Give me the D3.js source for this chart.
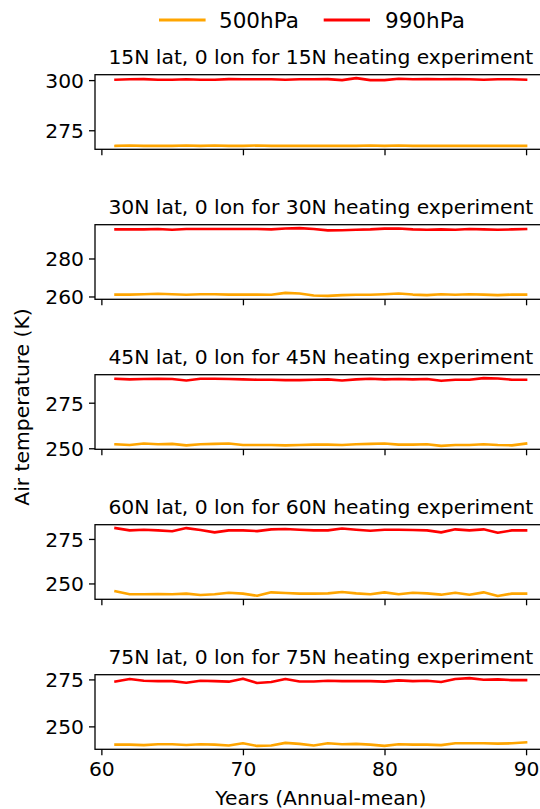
<!DOCTYPE html>
<html>
<head>
<meta charset="utf-8">
<script src="https://cdn.jsdelivr.net/npm/d3@7"></script>
<style>
  html, body { margin: 0; padding: 0; background: #fff; }
  svg { display: block; }
  text { font-family: "DejaVu Sans", sans-serif; fill: #000; }
</style>
</head>
<body>
<svg id="chart" width="540" height="809"></svg>
<script>
// ---------------- data ----------------
const years = [61,62,63,64,65,66,67,68,69,70,71,72,73,74,75,76,77,78,79,80,81,82,83,84,85,86,87,88,89,90];
const seriesNames = ["500hPa", "990hPa"];
const panelTitles = [
  "15N lat, 0 lon for 15N heating experiment",
  "30N lat, 0 lon for 30N heating experiment",
  "45N lat, 0 lon for 45N heating experiment",
  "60N lat, 0 lon for 60N heating experiment",
  "75N lat, 0 lon for 75N heating experiment"
];
const t500_15N = [267.2,267.4,267.2,267.2,267.2,267.4,267.2,267.4,267.2,267.2,267.4,267.2,267.2,267.2,267.2,267.2,267.2,267.2,267.4,267.2,267.4,267.2,267.2,267.2,267.2,267.2,267.2,267.2,267.2,267.2];
const t990_15N = [300.2,300.4,300.5,300.2,300.2,300.4,300.2,300.2,300.5,300.4,300.4,300.4,300.2,300.4,300.4,300.5,300.0,301.0,300.0,300.0,300.7,300.4,300.5,300.4,300.5,300.4,300.2,300.4,300.4,300.2];
const t500_30N = [261.0,261.0,261.2,261.4,261.2,260.9,261.2,261.2,261.0,261.0,261.0,260.9,261.9,261.6,260.5,260.3,260.7,260.9,260.9,261.2,261.6,261.0,260.7,261.2,260.9,261.2,261.0,260.7,261.0,261.0];
const t990_30N = [295.3,295.3,295.3,295.5,295.1,295.5,295.5,295.5,295.5,295.5,295.5,295.3,295.8,296.0,295.5,294.8,294.9,295.1,295.3,295.7,295.8,295.3,295.1,295.3,295.1,295.5,295.3,295.1,295.3,295.5];
const t500_45N = [252.2,251.8,252.6,252.2,252.4,251.6,252.2,252.4,252.6,251.8,251.8,251.8,251.6,251.8,252.0,252.0,251.8,252.2,252.4,252.6,252.0,252.0,252.2,251.3,251.8,251.8,252.2,251.8,251.6,252.6];
const t990_45N = [288.1,287.8,288.0,288.1,288.0,287.2,288.1,288.1,288.0,287.8,287.6,287.6,287.4,287.4,287.6,287.8,287.2,287.8,288.1,287.8,288.0,287.8,288.0,287.0,287.6,287.6,288.5,288.3,287.6,287.6];
const t500_60N = [245.6,243.9,243.9,244.1,243.9,244.3,243.5,243.9,244.8,244.3,243.1,245.0,244.6,244.3,244.3,244.4,245.2,244.4,243.9,245.0,243.9,244.8,244.4,243.7,244.8,243.7,245.0,243.0,244.3,244.3];
const t990_60N = [281.1,279.8,280.2,279.8,279.3,281.1,280.0,278.7,279.8,279.8,279.4,280.4,280.6,280.2,279.8,279.8,280.9,280.2,279.6,280.2,280.2,280.0,279.8,278.7,280.4,279.8,280.4,278.5,279.8,279.8];
const t500_75N = [240.3,240.3,240.0,240.5,240.5,240.1,240.5,240.3,239.8,241.0,239.6,239.8,241.2,240.7,239.8,241.0,240.5,240.7,240.3,239.6,240.5,240.3,240.3,240.0,241.0,241.0,241.0,240.8,241.0,241.5];
const t990_75N = [273.9,275.2,274.3,274.1,274.1,273.2,274.3,274.1,273.8,275.4,273.1,273.6,275.2,273.9,273.9,274.3,274.1,274.1,274.1,273.8,274.5,274.1,274.3,273.6,275.2,275.7,274.8,275.0,274.6,274.6];
const yTicksPerPanel = [[275,300],[260,280],[250,275],[250,275],[250,275]];
const xTicks = [60,70,80,90];
const xLabel = "Years (Annual-mean)";
const yLabel = "Air temperature (K)";

const panels = [
  [t500_15N, t990_15N],
  [t500_30N, t990_30N],
  [t500_45N, t990_45N],
  [t500_60N, t990_60N],
  [t500_75N, t990_75N]
];
const colors = ["#FFA500", "#FF0000"];

// ---------------- layout ----------------
const FS = 20.3;
const left = 95, right = 546.6;
const firstTop = 74.7, panelStep = 150, panelH = 74.6;
const svg = d3.select("#chart");

// x scale with matplotlib-like 5% margins
const xExt = d3.extent(years);
const xPad = (xExt[1] - xExt[0]) * 0.05;
const x = d3.scaleLinear().domain([xExt[0] - xPad, xExt[1] + xPad]).range([left, right]);

panels.forEach((pair, i) => {
  const top = firstTop + i * panelStep;
  const bottom = top + panelH;
  const all = pair[0].concat(pair[1]);
  const ext = d3.extent(all);
  const pad = (ext[1] - ext[0]) * 0.05;
  const y = d3.scaleLinear().domain([ext[0] - pad, ext[1] + pad]).range([bottom, top]);

  const g = svg.append("g");

  // lines
  const line = d3.line().x((d, j) => x(years[j])).y(d => y(d));
  pair.forEach((vals, k) => {
    g.append("path")
      .datum(vals)
      .attr("d", line)
      .attr("fill", "none")
      .attr("stroke", colors[k])
      .attr("stroke-width", 2.6)
      .attr("stroke-linejoin", "round")
      .attr("stroke-linecap", "square");
  });

  // y axis
  const yAxis = d3.axisLeft(y).tickValues(yTicksPerPanel[i]).tickSize(6).tickPadding(5);
  const ya = g.append("g").attr("transform", `translate(${left},0)`).call(yAxis);
  // x axis
  const xAxis = d3.axisBottom(x).tickValues(xTicks).tickSize(6).tickPadding(5)
    .tickFormat(i === panels.length - 1 ? d3.format("d") : () => "");
  const xa = g.append("g").attr("transform", `translate(0,${bottom})`).call(xAxis);

  [ya, xa].forEach(a => {
    a.select(".domain").remove();
    a.selectAll(".tick line").attr("stroke", "#000").attr("stroke-width", 1.3);
    a.selectAll(".tick text").attr("font-size", FS).attr("font-family", "DejaVu Sans").attr("fill", "#000");
  });
  ya.selectAll(".tick text").attr("dy", "0.36em");
  xa.selectAll(".tick text").attr("dy", "0.75em");

  // spines (frame)
  g.append("rect")
    .attr("x", left).attr("y", top)
    .attr("width", right - left).attr("height", panelH)
    .attr("fill", "none").attr("stroke", "#000").attr("stroke-width", 1.3);

  // title
  g.append("text")
    .attr("x", (left + right) / 2)
    .attr("y", top - 11)
    .attr("text-anchor", "middle")
    .attr("font-size", FS)
    .text(panelTitles[i]);
});

// x label
svg.append("text")
  .attr("x", (left + right) / 2)
  .attr("y", 805)
  .attr("text-anchor", "middle")
  .attr("font-size", FS)
  .text(xLabel);

// y label
svg.append("text")
  .attr("transform", "translate(29,407) rotate(-90)")
  .attr("text-anchor", "middle")
  .attr("font-size", FS)
  .text(yLabel);

// legend
const leg = svg.append("g");
const legItems = [
  { x1: 159, x2: 205.6, tx: 219 },
  { x1: 323.7, x2: 370, tx: 385 }
];
seriesNames.forEach((name, k) => {
  const it = legItems[k];
  leg.append("line")
    .attr("x1", it.x1).attr("x2", it.x2)
    .attr("y1", 20).attr("y2", 20)
    .attr("stroke", colors[k]).attr("stroke-width", 3);
  leg.append("text")
    .attr("x", it.tx).attr("y", 20)
    .attr("dy", "0.36em")
    .attr("font-size", 21.5)
    .text(name);
});
</script>
</body>
</html>
